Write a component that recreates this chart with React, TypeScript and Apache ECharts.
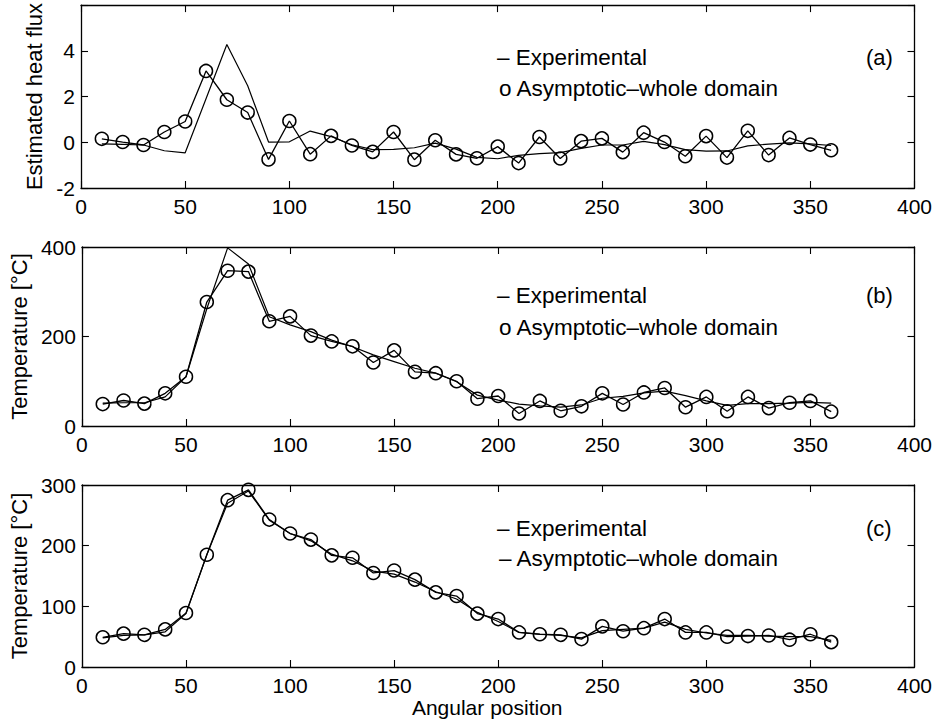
import React, { useEffect, useRef } from "react";
import * as echarts from "echarts";

const angles = [10, 20, 30, 40, 50, 60, 70, 80, 90, 100, 110, 120, 130, 140, 150, 160, 170, 180, 190, 200, 210, 220, 230, 240, 250, 260, 270, 280, 290, 300, 310, 320, 330, 340, 350, 360];

// (a) Estimated heat flux
const fluxExperimental = [-0.07, -0.09, -0.12, -0.37, -0.46, 1.9, 4.28, 2.47, 0.01, 0.02, 0.49, 0.25, -0.11, -0.32, -0.31, -0.24, -0.04, -0.3, -0.66, -0.72, -0.57, -0.5, -0.45, -0.27, -0.12, -0.12, 0.04, -0.1, -0.32, -0.39, -0.38, -0.16, -0.08, -0.03, -0.07, -0.14];
const fluxAsymptotic = [0.15, 0.01, -0.12, 0.45, 0.91, 3.12, 1.86, 1.3, -0.75, 0.93, -0.52, 0.28, -0.14, -0.42, 0.45, -0.76, 0.09, -0.53, -0.7, -0.19, -0.91, 0.23, -0.71, 0.05, 0.17, -0.43, 0.42, 0.01, -0.61, 0.27, -0.67, 0.5, -0.56, 0.19, -0.1, -0.35];

// (b) Temperature
const tempBExperimental = [51, 52, 52, 65, 110, 262, 398, 362, 244, 226, 211, 192, 177, 159, 144, 129, 118, 99, 69, 58, 49, 45, 42, 47, 62, 66, 74, 78, 68, 56, 46, 50, 50, 51, 53, 51];
const tempBAsymptotic = [49, 57, 50, 73, 110, 277, 347, 345, 234, 245, 202, 189, 178, 142, 169, 121, 118, 100, 61, 67, 28, 56, 34, 44, 73, 48, 75, 85, 42, 65, 33, 65, 40, 52, 56, 32];

// (c) Temperature
const tempCExperimental = [48, 52, 53, 58, 88, 185, 270, 290, 242, 220, 208, 186, 175, 158, 153, 140, 124, 112, 90, 75, 57, 54, 52, 48, 60, 62, 64, 74, 62, 56, 52, 52, 51, 50, 50, 44];
const tempCAsymptotic = [49, 55, 53, 62, 89, 185, 275, 292, 243, 220, 210, 184, 180, 155, 159, 144, 123, 117, 88, 79, 57, 54, 53, 46, 67, 59, 64, 79, 57, 57, 50, 51, 52, 45, 54, 41];

const xTicks = { min: 0, max: 400, interval: 50 };
const yRanges = [
  { min: -2, max: 6, interval: 2, hideMax: true, name: "Estimated heat flux", gap: 35 },
  { min: 0, max: 400, interval: 200, hideMax: false, name: "Temperature [°C]", gap: 46 },
  { min: 0, max: 300, interval: 100, hideMax: false, name: "Temperature [°C]", gap: 46 },
];
const panelLabels = ["(a)", "(b)", "(c)"];
const legendExp = "– Experimental";
const legendAsym = ["o Asymptotic–whole domain", "o Asymptotic–whole domain", "– Asymptotic–whole domain"];
const xName = "Angular position";

const FONT = "'Liberation Sans', Arial, Helvetica, sans-serif";

export default function App() {
  const ref = useRef<HTMLDivElement>(null);
  useEffect(() => {
    if (!ref.current) return;
    const chart = echarts.init(ref.current, undefined, { renderer: "svg" });
    const grids = [
      { left: 81, top: 5, width: 835, height: 183 },
      { left: 81, top: 247, width: 835, height: 179 },
      { left: 81, top: 485, width: 835, height: 182 },
    ];
    const axisLine = { show: true, onZero: false, lineStyle: { color: "#000", width: 1.3 } };
    const tick = { show: true, inside: true, length: 7, lineStyle: { color: "#000", width: 1.1 } };
    const xAxes: any[] = [];
    const yAxes: any[] = [];
    grids.forEach((_, i) => {
      xAxes.push({
        type: "value", gridIndex: i, position: "bottom", ...xTicks,
        axisLine, axisTick: tick, splitLine: { show: false },
        axisLabel: { color: "#000", fontSize: 21, fontFamily: FONT, margin: 8 },
        ...(i === 2 ? {
          name: xName, nameLocation: "middle", nameGap: 30,
          nameTextStyle: { color: "#000", fontSize: 21, fontFamily: FONT, padding: [0, 22, 0, 0] },
        } : {}),
      });
      xAxes.push({
        type: "value", gridIndex: i, position: "top", ...xTicks,
        axisLine, axisTick: tick, splitLine: { show: false }, axisLabel: { show: false },
      });
      const r = yRanges[i];
      yAxes.push({
        type: "value", gridIndex: i, position: "left", min: r.min, max: r.max, interval: r.interval,
        axisLine, axisTick: tick, splitLine: { show: false },
        axisLabel: {
          color: "#000", fontSize: 21, fontFamily: FONT, margin: 6,
          formatter: (v: number) => (r.hideMax && v === r.max ? "" : String(v)),
        },
        name: r.name, nameLocation: "middle", nameGap: r.gap,
        nameTextStyle: { color: "#000", fontSize: 22, fontFamily: FONT },
      });
      yAxes.push({
        type: "value", gridIndex: i, position: "right", min: r.min, max: r.max, interval: r.interval,
        axisLine, axisTick: tick, splitLine: { show: false }, axisLabel: { show: false },
      });
    });
    const pairs = (vals: number[]) => angles.map((a, k) => [a, vals[k]]);
    const expSets = [fluxExperimental, tempBExperimental, tempCExperimental];
    const asymSets = [fluxAsymptotic, tempBAsymptotic, tempCAsymptotic];
    const series: any[] = [];
    grids.forEach((_, i) => {
      series.push({
        type: "line", name: "Experimental", xAxisIndex: 2 * i, yAxisIndex: 2 * i,
        data: pairs(expSets[i]), symbol: "none", showSymbol: false,
        lineStyle: { color: "#000", width: 1.2 },
      });
      series.push({
        type: "line", name: "Asymptotic-whole domain", xAxisIndex: 2 * i, yAxisIndex: 2 * i,
        data: pairs(asymSets[i]), symbol: "circle", symbolSize: 13,
        itemStyle: { color: "rgba(0,0,0,0)", borderColor: "#000", borderWidth: 1.5 },
        lineStyle: { color: "#000", width: 1.3 },
      });
    });
    const legendY = [[57, 88], [295, 327], [528, 558]];
    const graphic: any[] = [];
    grids.forEach((_, i) => {
      graphic.push({ type: "text", x: 497, y: legendY[i][0], style: { text: legendExp, fill: "#000", fontSize: 22.5, fontFamily: FONT, verticalAlign: "middle" } });
      graphic.push({ type: "text", x: 499, y: legendY[i][1], style: { text: legendAsym[i], fill: "#000", fontSize: 22.5, fontFamily: FONT, verticalAlign: "middle" } });
      graphic.push({ type: "text", x: 866, y: legendY[i][0], style: { text: panelLabels[i], fill: "#000", fontSize: 22, fontFamily: FONT, verticalAlign: "middle" } });
    });
    chart.setOption({
      animation: false,
      backgroundColor: "#fff",
      grid: grids,
      xAxis: xAxes,
      yAxis: yAxes,
      series,
      graphic,
    });
    return () => chart.dispose();
  }, []);
  return <div ref={ref} style={{ position: "absolute", left: 0, top: 0, width: 935, height: 724 }} />;
}
